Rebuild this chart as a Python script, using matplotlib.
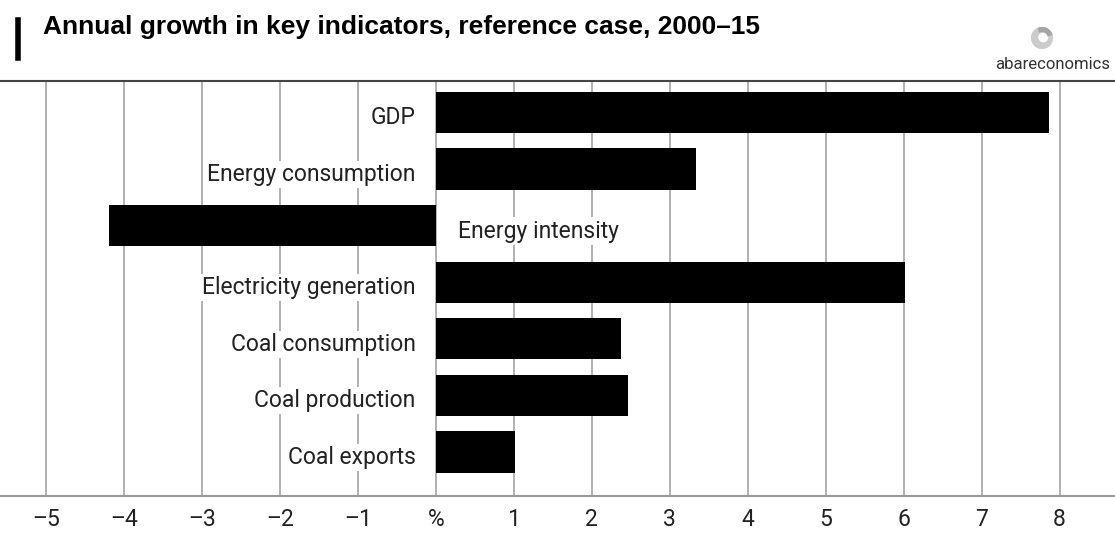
import matplotlib
matplotlib.use("Agg")
import matplotlib.pyplot as plt
from matplotlib.patches import Circle, Wedge

categories = ["GDP", "Energy consumption", "Energy intensity", "Electricity generation",
              "Coal consumption", "Coal production", "Coal exports"]
values = [7.86, 3.33, -4.19, 6.02, 2.38, 2.46, 1.02]
tick_values = list(range(-5, 9))
tick_labels = ["\u20135", "\u20134", "\u20133", "\u20132", "\u20131", "%", "1", "2", "3", "4", "5", "6", "7", "8"]

W, H = 1115, 556
FONT = "Roboto"
FS = 16.5
fig = plt.figure(figsize=(W / 100, H / 100), dpi=100)
ax = fig.add_axes([0, 60 / H, 1, 415 / H])

ypos = list(range(len(categories)))
ax.barh(ypos, values, height=0.73, color="black", zorder=3)
ax.set_xlim(-5.59, 8.71)
ax.set_ylim(6.78, -0.557)

for t in tick_values:
    ax.axvline(t, color="#ababab", lw=1.3, zorder=1)

for s in ["left", "right"]:
    ax.spines[s].set_visible(False)
ax.spines["top"].set_color("#444444")
ax.spines["top"].set_linewidth(1.5)
ax.spines["bottom"].set_color("#999999")
ax.spines["bottom"].set_linewidth(1.5)
ax.set_yticks([])
ax.set_xticks(tick_values)
ax.set_xticklabels(tick_labels, fontsize=FS, color="#222222", family=FONT)
ax.tick_params(axis="x", length=0, pad=9)

for y, v, c in zip(ypos, values, categories):
    if v >= 0:
        ax.text(-0.26, y + 0.21, c, ha="right", va="baseline", fontsize=FS, color="#222222",
                family=FONT, zorder=4,
                bbox=dict(facecolor="white", edgecolor="none", pad=1.5))
    else:
        ax.text(0.28, y + 0.21, c, ha="left", va="baseline", fontsize=FS, color="#222222",
                family=FONT, zorder=4,
                bbox=dict(facecolor="white", edgecolor="none", pad=1.5))

# title and marker
fig.text(43 / W, 1 - 27 / H, "Annual growth in key indicators, reference case, 2000\u201315",
         fontsize=19, fontweight="bold", family="Liberation Sans", va="center", ha="left")
fig.add_artist(plt.Line2D([17.5 / W, 17.5 / W], [1 - 20 / H, 1 - 58 / H], color="black", lw=4))

# logo
lax = fig.add_axes([1029 / W, 1 - 51 / H, 26 / W, 26 / H])
lax.set_xlim(-1, 1)
lax.set_ylim(-1, 1)
lax.set_aspect("equal")
lax.axis("off")
lax.add_patch(Circle((0, 0), 0.8, color="#cccccc"))
lax.add_patch(Circle((0.1, 0.05), 0.33, color="white"))
lax.add_patch(Wedge((0, 0), 0.8, 20, 110, width=0.3, color="#a5a5a5"))
fig.text(1110 / W, 1 - 65 / H, "abareconomics", fontsize=12, color="#333333",
         family=FONT, ha="right", va="center")

fig.savefig("out.png", dpi=100)
